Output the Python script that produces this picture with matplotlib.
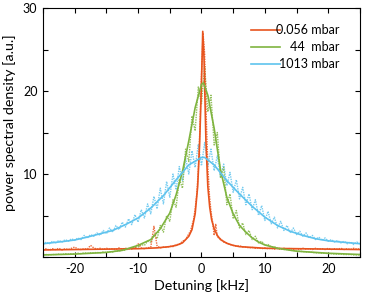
import numpy as np
import matplotlib
matplotlib.use("Agg")
import matplotlib.pyplot as plt
from matplotlib.ticker import MultipleLocator

plt.rcParams['font.family'] = ['Lato', 'DejaVu Sans']
plt.rcParams['axes.unicode_minus'] = False

# ---------------- data ----------------
labels = ["0.056 mbar", "44  mbar", "1013 mbar"]
colors = ["#e8541e", "#7fb43f", "#5ec3ee"]

# measured spectra (dotted)
x_data = [-25.0, -24.5, -24.0, -23.5, -23.0, -22.5, -22.0, -21.5, -21.0, -20.5,
          -20.0, -19.5, -19.0, -18.5, -18.0, -17.5, -17.0, -16.5, -16.0, -15.5,
          -15.0, -14.5, -14.0, -13.5, -13.0, -12.5, -12.0, -11.5, -11.0, -10.5,
          -10.0, -9.5, -9.0, -8.5, -8.0, -7.5, -7.0, -6.5, -6.0, -5.5,
          -5.0, -4.5, -4.0, -3.5, -3.0, -2.5, -2.0, -1.5, -1.0, -0.5,
          0.0, 0.5, 1.0, 1.5, 2.0, 2.5, 3.0, 3.5, 4.0, 4.5,
          5.0, 5.5, 6.0, 6.5, 7.0, 7.5, 8.0, 8.5, 9.0, 9.5,
          10.0, 10.5, 11.0, 11.5, 12.0, 12.5, 13.0, 13.5, 14.0, 14.5,
          15.0, 15.5, 16.0, 16.5, 17.0, 17.5, 18.0, 18.5, 19.0, 19.5,
          20.0, 20.5, 21.0, 21.5, 22.0, 22.5, 23.0, 23.5, 24.0, 24.5, 25.0]

blue_data = [1.5, 1.8, 1.6, 1.9, 1.7, 2.0, 1.8, 2.1, 1.9, 2.2,
             2.0, 2.3, 2.1, 2.6, 2.3, 2.7, 2.5, 2.9, 2.6, 3.2,
             2.8, 3.5, 3.0, 3.8, 3.3, 4.2, 3.6, 4.6, 3.9, 5.1,
             4.2, 5.7, 4.7, 6.4, 5.2, 7.3, 5.8, 8.3, 6.4, 9.1,
             7.2, 10.0, 8.1, 10.9, 9.2, 11.9, 10.0, 12.8, 10.8, 13.6,
             11.0, 13.8, 11.0, 13.0, 10.4, 12.2, 9.6, 11.2, 8.6, 10.2,
             7.8, 9.3, 7.0, 8.4, 6.3, 7.6, 5.7, 6.9, 5.0, 6.2,
             4.4, 5.5, 4.0, 4.8, 3.5, 4.3, 3.2, 3.8, 2.9, 3.5,
             2.7, 3.1, 2.5, 2.9, 2.3, 2.6, 2.1, 2.4, 2.0, 2.3,
             1.9, 2.1, 1.8, 2.0, 1.7, 1.9, 1.6, 1.8, 1.5, 1.8, 1.6]

green_data = [0.2, 0.3, 0.25, 0.3, 0.3, 0.35, 0.3, 0.4, 0.35, 0.4,
              0.35, 0.45, 0.4, 0.5, 0.45, 0.5, 0.5, 0.55, 0.5, 0.6,
              0.55, 0.65, 0.6, 0.75, 0.7, 0.85, 0.8, 1.0, 0.95, 1.2,
              1.2, 1.5, 1.4, 1.9, 1.8, 2.7, 2.2, 3.8, 3.0, 5.0,
              4.3, 6.9, 6.0, 9.4, 8.3, 13.0, 11.5, 17.0, 15.2, 20.5,
              18.5, 23.0, 17.5, 19.5, 13.5, 15.0, 9.5, 10.8, 6.3, 7.6,
              4.6, 5.6, 3.5, 4.1, 2.7, 3.2, 2.1, 2.5, 1.7, 1.9,
              1.4, 1.5, 1.2, 1.25, 1.0, 1.05, 0.9, 0.9, 0.8, 0.8,
              0.7, 0.7, 0.65, 0.6, 0.6, 0.55, 0.5, 0.5, 0.45, 0.45,
              0.4, 0.4, 0.35, 0.35, 0.35, 0.3, 0.3, 0.3, 0.25, 0.25, 0.25]

x_orange = [-25.0, -24.5, -24.0, -23.5, -23.0, -22.5, -22.0, -21.5, -21.0, -20.5,
            -20.0, -19.5, -19.0, -18.5, -18.0, -17.5, -17.0, -16.5, -16.0, -15.5,
            -15.0, -14.5, -14.0, -13.5, -13.0, -12.5, -12.0, -11.5, -11.0, -10.5,
            -10.0, -9.5, -9.0, -8.5, -8.0, -7.5, -7.0, -6.5, -6.0, -5.5,
            -5.0, -4.5, -4.0, -3.5, -3.0, -2.5, -2.0, -1.75, -1.5, -1.25,
            -1.0, -0.75, -0.5, -0.25, 0.0, 0.25, 0.5, 0.75, 1.0, 1.25,
            1.5, 1.75, 2.0, 2.25, 2.5, 3.0, 3.5, 4.0, 4.5, 5.0,
            5.5, 6.0, 6.5, 7.0, 7.5, 8.0, 8.5, 9.0, 9.5, 10.0,
            10.5, 11.0, 11.5, 12.0, 12.5, 13.0, 13.5, 14.0, 14.5, 15.0,
            15.5, 16.0, 16.5, 17.0, 17.5, 18.0, 18.5, 19.0, 19.5, 20.0,
            20.5, 21.0, 21.5, 22.0, 22.5, 23.0, 23.5, 24.0, 24.5, 25.0]
orange_data = [0.8, 1.0, 0.85, 1.0, 0.9, 1.05, 0.85, 1.0, 0.9, 1.05,
               1.2, 0.95, 0.9, 1.0, 0.95, 1.4, 1.1, 0.95, 1.05, 0.9,
               1.05, 0.95, 1.0, 0.9, 1.1, 0.95, 1.05, 1.0, 1.1, 1.05,
               1.6, 1.1, 1.0, 1.1, 1.2, 3.7, 1.3, 1.1, 1.2, 1.15,
               1.3, 1.25, 1.5, 1.5, 1.9, 2.1, 2.8, 3.1, 3.8, 4.5,
               5.8, 7.5, 10.5, 15.5, 22.0, 27.0, 24.5, 17.0, 11.0, 7.5,
               5.5, 4.2, 2.6, 4.0, 2.4, 2.2, 1.8, 1.7, 1.5, 1.4,
               1.3, 1.35, 1.2, 1.2, 1.1, 1.15, 1.05, 1.1, 1.0, 1.1,
               1.0, 1.05, 0.95, 1.05, 0.9, 1.05, 0.95, 1.05, 0.9, 1.0,
               0.9, 1.05, 0.95, 1.0, 0.9, 1.05, 0.95, 1.0, 0.9, 1.05,
               0.9, 1.0, 0.95, 1.05, 0.9, 1.0, 0.9, 1.05, 0.95, 1.0]

# fitted curves (solid)
x_fit_o = [-25, -20, -15, -10, -7, -5, -4, -3, -2, -1.5, -1, -0.6, -0.3, 0, 0.2,
           0.4, 0.7, 1.0, 1.3, 1.6, 2.0, 2.5, 3.0, 4.0, 5, 6, 8, 10, 15, 20, 25]
orange_fit = [0.85, 0.9, 0.95, 1.0, 1.1, 1.25, 1.4, 1.7, 2.5, 3.3, 5.2, 8.5, 13.5, 21, 27.2,
              24, 14, 8.5, 6, 4.5, 3.4, 2.6, 2.1, 1.65, 1.4, 1.25, 1.15, 1.05, 1.0, 0.95, 0.9]

x_fit_g = [-25, -20, -15, -12.5, -10, -8, -6.5, -5, -4, -3, -2, -1, 0, 0.3,
           1, 2, 3, 4, 5, 6, 7, 8, 9, 10, 12, 15, 20, 25]
green_fit = [0.25, 0.35, 0.55, 0.8, 1.4, 2.1, 3.4, 5.3, 7.5, 10.3, 14.0, 18.0, 20.8, 21.0,
             19.5, 15.5, 10.5, 7.2, 5.2, 3.8, 3.0, 2.3, 1.8, 1.45, 1.05, 0.7, 0.45, 0.3]

x_fit_b = [-25, -22, -20, -18, -16, -14, -12, -10, -8, -6, -4, -2, 0, 0.5,
           2, 4, 6, 8, 10, 12, 14, 16, 18, 20, 22, 25]
blue_fit = [1.6, 1.85, 2.05, 2.4, 2.8, 3.2, 3.9, 4.7, 5.9, 7.4, 9.3, 11.1, 12.0, 12.0,
            11.1, 9.2, 7.6, 6.1, 4.8, 3.8, 3.1, 2.6, 2.2, 1.95, 1.8, 1.6]

x_ticks = [-20, -10, 0, 10, 20]
y_ticks = [10, 20, 30]

# ---------------- plot ----------------
fig = plt.figure(figsize=(3.66, 2.97), dpi=100)
ax = fig.add_axes([0.1175, 0.1347, 0.866, 0.838])

dots = (0, (1, 0.8))
ax.plot(x_data, blue_data, ls=dots, color=colors[2], lw=1.0, alpha=0.85)
ax.plot(x_data, green_data, ls=dots, color=colors[1], lw=1.0, alpha=0.85)
ax.plot(x_orange, orange_data, ls=dots, color=colors[0], lw=1.0, alpha=0.85)

ax.plot(x_fit_o, orange_fit, color=colors[0], lw=1.2)
ax.plot(x_fit_g, green_fit, color=colors[1], lw=1.2)
ax.plot(x_fit_b, blue_fit, color=colors[2], lw=1.2)

ax.set_xlim(-25, 25)
ax.set_ylim(0, 30)
ax.set_xticks(x_ticks)
ax.set_yticks(y_ticks)
ax.xaxis.set_minor_locator(MultipleLocator(5))
ax.yaxis.set_minor_locator(MultipleLocator(5))
ax.tick_params(which='both', direction='in', top=True, right=True, labelsize=9,
               width=0.8, pad=4)
ax.tick_params(which='major', length=3.3)
ax.tick_params(which='minor', length=3.3)
for s in ax.spines.values():
    s.set_linewidth(0.8)

ax.set_xlabel("Detuning [kHz]", fontsize=10.3, labelpad=3)
ax.set_ylabel("power spectral density [a.u.]", fontsize=10.3, labelpad=5)
ax.yaxis.set_label_coords(-0.085, 0.54)

# legend drawn by hand with right-aligned labels
leg_rows = [0.912, 0.843, 0.775]
for lab, col, yy in zip(labels, colors, leg_rows):
    ax.plot([0.656, 0.748], [yy, yy], color=col, lw=1.2, transform=ax.transAxes)
    ax.text(0.934, yy, lab, ha='right', va='center', fontsize=9,
            transform=ax.transAxes)

fig.savefig("out.png", dpi=100)
